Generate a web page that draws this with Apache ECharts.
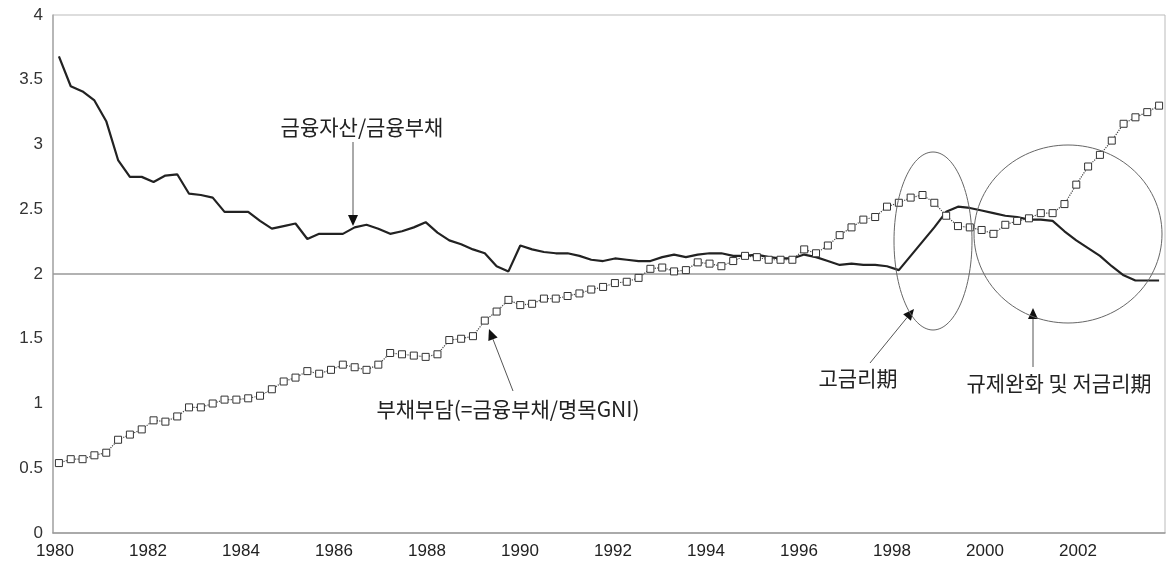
<!DOCTYPE html>
<html>
<head>
<meta charset="utf-8">
<script src="https://cdn.jsdelivr.net/npm/echarts@6/dist/echarts.min.js"></script>
<style>
html,body{margin:0;padding:0;background:#fff;}
#c{width:1174px;height:574px;}
</style>
</head>
<body>
<div id="c"></div>
<script>
// Quarterly observations, 1980Q1 .. 2003Q2 (94 quarters)
const startYear = 1980;
const nQuarters = 94;
const categories = [];
for (let i = 0; i < nQuarters; i++) {
  categories.push((startYear + Math.floor(i / 4)) + 'Q' + (i % 4 + 1));
}

// 금융자산/금융부채
const assetToLiability = [
  3.68, 3.45, 3.41, 3.34, 3.18, 2.88, 2.75, 2.75, 2.71, 2.76,
  2.77, 2.62, 2.61, 2.59, 2.48, 2.48, 2.48, 2.41, 2.35, 2.37,
  2.39, 2.27, 2.31, 2.31, 2.31, 2.36, 2.38, 2.35, 2.31, 2.33,
  2.36, 2.40, 2.32, 2.26, 2.23, 2.19, 2.16, 2.06, 2.02, 2.22,
  2.19, 2.17, 2.16, 2.16, 2.14, 2.11, 2.10, 2.12, 2.11, 2.10,
  2.10, 2.13, 2.15, 2.13, 2.15, 2.16, 2.16, 2.14, 2.14, 2.15,
  2.13, 2.12, 2.12, 2.15, 2.13, 2.10, 2.07, 2.08, 2.07, 2.07,
  2.06, 2.03, 2.14, 2.25, 2.36, 2.48, 2.52, 2.51, 2.49, 2.47,
  2.45, 2.44, 2.42, 2.42, 2.41, 2.33, 2.26, 2.20, 2.14, 2.06,
  1.99, 1.95, 1.95, 1.95
];

// 부채부담 (=금융부채/명목GNI)
const debtBurden = [
  0.54, 0.57, 0.57, 0.60, 0.62, 0.72, 0.76, 0.80, 0.87, 0.86,
  0.90, 0.97, 0.97, 1.00, 1.03, 1.03, 1.04, 1.06, 1.11, 1.17,
  1.20, 1.25, 1.23, 1.26, 1.30, 1.28, 1.26, 1.30, 1.39, 1.38,
  1.37, 1.36, 1.38, 1.49, 1.50, 1.52, 1.64, 1.71, 1.80, 1.76,
  1.77, 1.81, 1.81, 1.83, 1.85, 1.88, 1.90, 1.93, 1.94, 1.97,
  2.04, 2.05, 2.02, 2.03, 2.09, 2.08, 2.06, 2.10, 2.14, 2.13,
  2.11, 2.11, 2.11, 2.19, 2.16, 2.22, 2.30, 2.36, 2.42, 2.44,
  2.52, 2.55, 2.59, 2.61, 2.55, 2.45, 2.37, 2.36, 2.34, 2.31,
  2.38, 2.41, 2.43, 2.47, 2.47, 2.54, 2.69, 2.83, 2.92, 3.03,
  3.16, 3.21, 3.25, 3.30
];

const xTickLabels = [1980, 1982, 1984, 1986, 1988, 1990, 1992, 1994, 1996, 1998, 2000, 2002];
const yTicks = { min: 0, max: 4, interval: 0.5 };
const referenceLevel = 2;

const chart = echarts.init(document.getElementById('c'), null, { renderer: 'canvas' });

const textFont = '21px "Noto Sans CJK KR", sans-serif';
const lineColor = '#555';

function ellipse(cx, cy, rx, ry) {
  const pts = [];
  for (let k = 0; k < 120; k++) {
    const a = (k / 120) * Math.PI * 2;
    pts.push([cx + rx * Math.cos(a), cy + ry * Math.sin(a)]);
  }
  return {
    type: 'polygon', silent: true, z: 50,
    shape: { points: pts },
    style: { fill: null, stroke: '#666', lineWidth: 1 }
  };
}

function arrow(x1, y1, x2, y2) {
  const ang = Math.atan2(y2 - y1, x2 - x1);
  const L = 11, W = 5;
  const bx = x2 - L * Math.cos(ang), by = y2 - L * Math.sin(ang);
  const nx = -Math.sin(ang), ny = Math.cos(ang);
  return [
    { type: 'line', silent: true, z: 50,
      shape: { x1: x1, y1: y1, x2: bx, y2: by },
      style: { stroke: lineColor, lineWidth: 1 } },
    { type: 'polygon', silent: true, z: 50,
      shape: { points: [[x2, y2], [bx + nx * W, by + ny * W], [bx - nx * W, by - ny * W]] },
      style: { fill: '#111' } }
  ];
}

function label(text, x, y) {
  return {
    type: 'text', silent: true, z: 50,
    style: { text: text, x: x, y: y, align: 'center', verticalAlign: 'middle',
             font: textFont, fill: '#222' }
  };
}

const graphics = [].concat(
  [label('금융자산/금융부채', 362, 127)],
  arrow(353, 142, 353, 226),
  [label('부채부담(=금융부채/명목GNI)', 508, 409)],
  arrow(513, 391, 489, 329),
  [label('고금리期', 858, 378)],
  arrow(870, 363, 914, 309),
  [label('규제완화 및 저금리期', 1059, 383)],
  arrow(1033, 367, 1033, 308),
  [ellipse(933, 241, 39, 89), ellipse(1068, 234, 94, 89)]
);

chart.setOption({
  animation: false,
  backgroundColor: '#fff',
  grid: {
    left: 53, right: 9, top: 15, bottom: 41,
    show: true, borderColor: '#bbb', borderWidth: 1, backgroundColor: 'transparent'
  },
  xAxis: [
    {
      type: 'category',
      data: categories,
      boundaryGap: true,
      position: 'bottom',
      axisLine: { show: true, lineStyle: { color: '#999', width: 1.5 } },
      axisTick: { show: false },
      axisLabel: { show: false },
      splitLine: { show: false }
    },
    {
      type: 'value',
      position: 'bottom',
      min: 1979.957,
      max: 2003.871,
      axisLine: { show: false },
      axisTick: { show: false },
      splitLine: { show: false },
      axisLabel: {
        customValues: xTickLabels,
        formatter: function (v) { return String(Math.round(v)); },
        color: '#222',
        fontFamily: '"Liberation Sans Narrow", "Liberation Sans", sans-serif',
        fontSize: 17,
        margin: 10
      }
    }
  ],
  yAxis: {
    type: 'value',
    min: yTicks.min, max: yTicks.max, interval: yTicks.interval,
    axisLine: { show: true, lineStyle: { color: '#aaa', width: 1.5 } },
    axisTick: { show: false },
    splitLine: { show: false },
    axisLabel: {
      color: '#333',
      fontFamily: '"Liberation Sans", sans-serif',
      fontSize: 17,
      margin: 10
    }
  },
  series: [
    {
      name: '금융자산/금융부채',
      type: 'line',
      xAxisIndex: 0,
      data: assetToLiability,
      symbol: 'none',
      lineStyle: { color: '#222', width: 2.2 },
      z: 3,
      markLine: {
        silent: true,
        symbol: 'none',
        label: { show: false },
        lineStyle: { color: '#999', width: 1.5, type: 'solid' },
        data: [{ yAxis: referenceLevel }],
        z: 1
      }
    },
    {
      name: '부채부담(=금융부채/명목GNI)',
      type: 'line',
      xAxisIndex: 0,
      data: debtBurden,
      symbol: 'rect',
      symbolSize: 7,
      showAllSymbol: true,
      lineStyle: { color: '#444', width: 1.2, type: 'dotted' },
      itemStyle: { color: '#fff', borderColor: '#333', borderWidth: 1 },
      z: 4
    }
  ],
  graphic: graphics
});
</script>
</body>
</html>
